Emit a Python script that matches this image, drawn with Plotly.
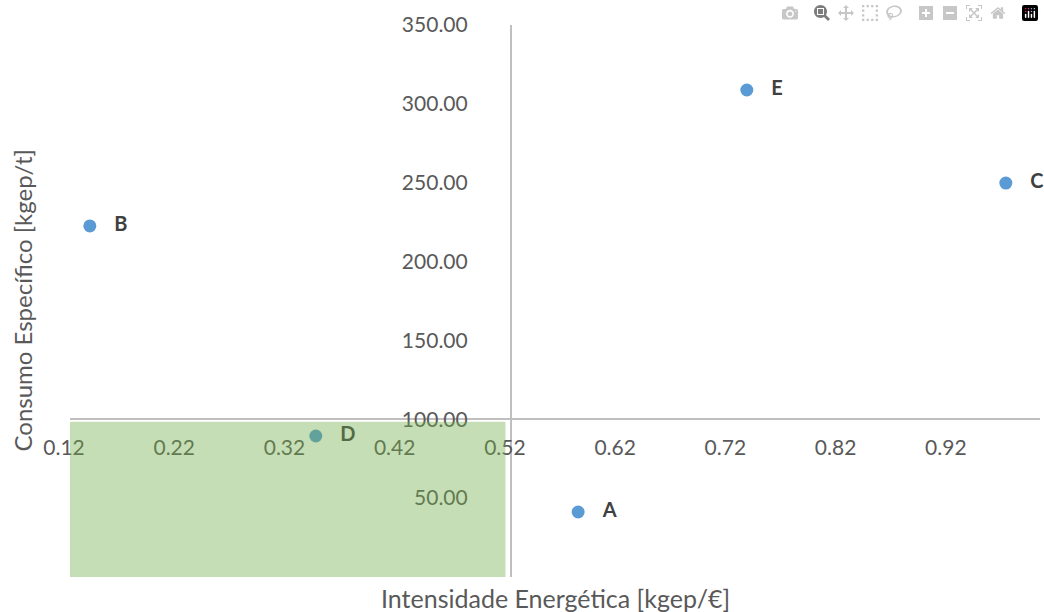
import plotly.graph_objects as go

# Data
labels = ["A", "B", "C", "D", "E"]
intensidade = [0.581, 0.138, 0.969, 0.343, 0.734]
consumo = [41.2, 222.6, 249.8, 89.4, 308.8]

x_ticks = [0.12, 0.22, 0.32, 0.42, 0.52, 0.62, 0.72, 0.82, 0.92]
y_ticks = [50, 100, 150, 200, 250, 300, 350]

x_min, x_max = 0.12, 1.0
y_min, y_max = 0, 350
x_cross = 0.52   # vertical axis crosses here
y_cross = 100    # horizontal axis crosses here

# highlighted zone
zone_x = [0.12, 0.515]
zone_y = [0, 98.5]

FONT = "Lato"
GREY = "#595959"
LINE = "#BFBFBF"

fig = go.Figure()
fig.add_trace(go.Scatter(
    x=intensidade, y=consumo, mode="markers+text",
    text=labels, textposition="middle right",
    texttemplate="\u00a0\u00a0\u00a0<b>%{text}</b>",
    textfont=dict(family=FONT, size=20, color="#404040"),
    marker=dict(color="#5B9BD5", size=13),
    cliponaxis=False, showlegend=False,
))

fig.add_shape(type="rect", xref="x", yref="y",
              x0=zone_x[0], x1=zone_x[1], y0=zone_y[0], y1=zone_y[1],
              fillcolor="#70AD47", opacity=0.4, line=dict(width=0),
              layer="above")

fig.update_layout(
    width=1044, height=612,
    margin=dict(l=70, r=4, t=25, b=35, autoexpand=False),
    plot_bgcolor="white", paper_bgcolor="white",
    font=dict(family=FONT, color=GREY, size=21),
    xaxis=dict(
        range=[x_min, x_max], tickvals=x_ticks,
        ticktext=[f"{v:.2f}" for v in x_ticks],
        showgrid=False, zeroline=False, automargin=False,
        showline=True, linecolor=LINE, linewidth=2,
        anchor="free", position=(y_cross - y_min) / (y_max - y_min),
        ticks="", ticklabelstandoff=10, ticklabelshift=-6,
        tickfont=dict(family=FONT, size=21, color=GREY),
    ),
    yaxis=dict(
        range=[y_min, y_max], tickvals=y_ticks,
        ticktext=[f"{v:.2f}" for v in y_ticks],
        showgrid=False, zeroline=False, automargin=False,
        showline=True, linecolor=LINE, linewidth=2,
        anchor="free", position=(x_cross - x_min) / (x_max - x_min),
        ticks="", ticklabelstandoff=38,
        tickfont=dict(family=FONT, size=21, color=GREY),
    ),
    annotations=[
        dict(text="Intensidade Energética [kgep/€]", xref="paper", yref="paper",
             x=0.5, y=-0.038, xanchor="center", yanchor="middle", showarrow=False,
             font=dict(family=FONT, size=25, color=GREY)),
        dict(text="Consumo Específico [kgep/t]", xref="paper", yref="paper",
             x=-0.05, y=0.5, xanchor="center", yanchor="middle", textangle=-90,
             showarrow=False, font=dict(family=FONT, size=24, color=GREY)),
    ],
)

fig.write_html(
    "out.html",
    post_script="document.body.style.margin='0';document.body.style.overflow='hidden';",
)
